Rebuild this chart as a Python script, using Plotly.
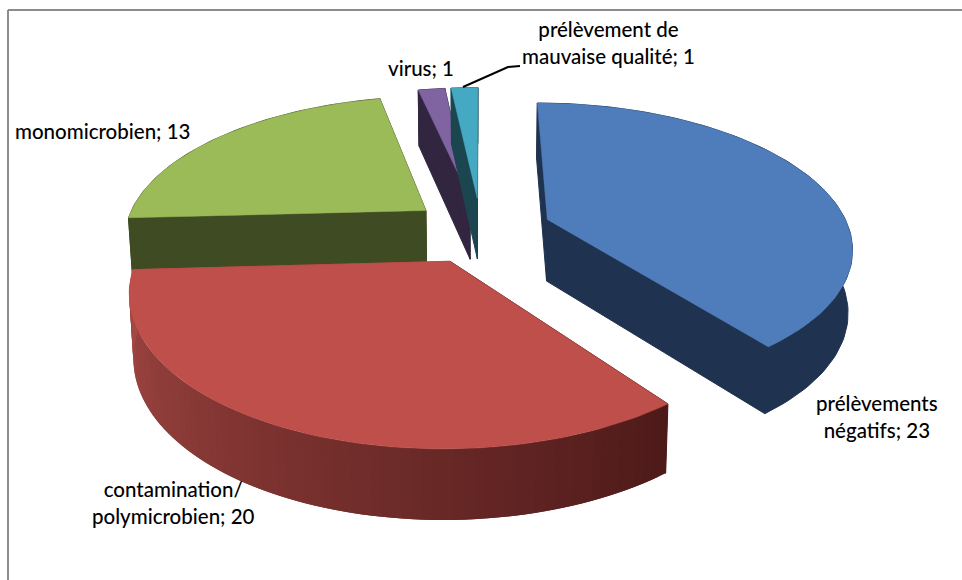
import math
import numpy as np
import plotly.graph_objects as go

categories = ["prélèvements négatifs", "contamination/polymicrobien", "monomicrobien", "virus", "prélèvement de mauvaise qualité"]
values = [23, 20, 13, 1, 1]
top_colors = ["#4F7DBB", "#BE4F4B", "#9BBB59", "#8064A2", "#46A9C4"]
side_colors = ["#1F3350", "#A64945", "#3F4C23", "#32253F", "#1B4650"]
side_colors_end = ["#1F3350", "#4D1A19", "#3F4C23", "#32253F", "#1B4650"]
label_texts = ["prélèvements<br>négatifs; 23", "contamination/<br>polymicrobien; 20", "monomicrobien; 13", "virus; 1", "prélèvement de<br>mauvaise qualité; 1"]
label_xy = [(877, 416), (173, 502), (102, 131), (421, 68), (608, 42)]

CX, CY, A, B, K, EXPL = 481, 230, 302, 141, 0.18, 0.235
DRAW_ORDER = [2, 3, 4, 0, 1]


def project(x, y):
    s = 1 / (1 + K * y)
    return CX + A * x * s, CY - B * y * s


def lower(px, py):
    return CX + (px - CX) * 0.988, py + 56 + (py - 89) * 0.042


def hexmix(c1, c2, t):
    a = [int(c1[i:i + 2], 16) for i in (1, 3, 5)]
    b = [int(c2[i:i + 2], 16) for i in (1, 3, 5)]
    return "rgb(%d,%d,%d)" % tuple(round(p + (q - p) * t) for p, q in zip(a, b))


def poly(pts, color, name, lw=0.5):
    xs = [p[0] for p in pts] + [pts[0][0]]
    ys = [p[1] for p in pts] + [pts[0][1]]
    return go.Scatter(x=xs, y=ys, mode="lines", fill="toself", fillcolor=color,
                      line=dict(color=color, width=lw), name=name, showlegend=False,
                      hovertemplate=name + "<extra></extra>")


total = sum(values)
bounds = np.cumsum([0] + values) / total * 2 * math.pi
fig = go.Figure()

for i in DRAW_ORDER:
    t0, t1 = bounds[i], bounds[i + 1]
    tm = (t0 + t1) / 2
    ox, oy = EXPL * math.sin(tm), EXPL * math.cos(tm)
    n = max(6, int(values[i] * 4))
    ts = np.linspace(t0, t1, n + 1)
    apex = project(ox, oy)
    rim = [project(ox + math.sin(t), oy + math.cos(t)) for t in ts]
    fig.add_trace(poly([apex, rim[0], lower(*rim[0]), lower(*apex)], side_colors_end[i], categories[i], lw=1))
    fig.add_trace(poly([apex, rim[-1], lower(*rim[-1]), lower(*apex)], side_colors[i], categories[i], lw=1))
    if side_colors[i] == side_colors_end[i]:
        # uniform wall: one polygon along the rim
        fig.add_trace(poly(rim + [lower(*p) for p in reversed(rim)], side_colors[i], categories[i], lw=1))
    else:
        # shaded wall: overlapping strips, so that no seams show
        for j in range(n):
            f = 1 - (j + 0.5) / n
            stop = min(j + 2, n)
            fig.add_trace(poly([rim[j], rim[stop], lower(*rim[stop]), lower(*rim[j])],
                               hexmix(side_colors[i], side_colors_end[i], f), categories[i], lw=0))
    fig.add_trace(poly([apex] + rim, top_colors[i], categories[i]))

# leader line of the smallest slice
fig.add_trace(go.Scatter(x=[463, 508, 520], y=[87, 67, 66], mode="lines", showlegend=False,
                         line=dict(color="#000000", width=2), hoverinfo="skip"))

for text, (x, y) in zip(label_texts, label_xy):
    fig.add_annotation(x=x, y=y, text=text, showarrow=False, xanchor="center", yanchor="middle",
                       font=dict(family="Lato", size=20.5, color="#000000", weight=500), align="center")

fig.update_layout(
    width=962, height=580, margin=dict(l=0, r=0, t=0, b=0),
    paper_bgcolor="#FFFFFF", plot_bgcolor="#FFFFFF", showlegend=False,
    xaxis=dict(range=[0, 962], visible=False, fixedrange=True),
    yaxis=dict(range=[580, 0], visible=False, fixedrange=True),
    shapes=[dict(type="line", x0=8, x1=8, y0=10, y1=580, line=dict(color="#8C8C8C", width=2)),
            dict(type="line", x0=8, x1=962, y0=10, y1=10, line=dict(color="#8C8C8C", width=2))],
)
fig.write_html("out.html", config={"displayModeBar": False},
               post_script="document.body.style.margin='0';document.documentElement.style.overflow='hidden';")
